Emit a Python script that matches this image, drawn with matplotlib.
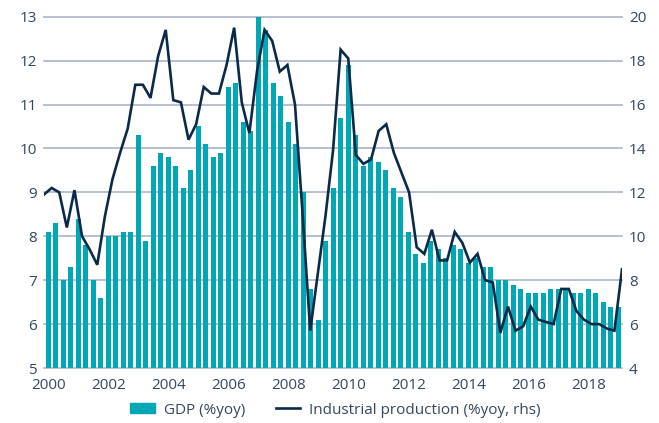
import numpy as np
import matplotlib.pyplot as plt
from matplotlib.patches import Patch
from matplotlib.lines import Line2D

# quarterly data, 2000Q1 .. 2019Q1
year_labels = [str(y) for y in range(2000, 2019, 2)]
gdp = [8.1, 8.3, 7.0, 7.3,   8.4, 7.8, 7.0, 6.6,   8.0, 8.0, 8.1, 8.1,
       10.3, 7.9, 9.6, 9.9,  9.8, 9.6, 9.1, 9.5,   10.5, 10.1, 9.8, 9.9,
       11.4, 11.5, 10.6, 10.4, 13.8, 12.7, 11.5, 11.2, 10.6, 10.1, 9.0, 6.8,
       6.1, 7.9, 9.1, 10.7,  11.9, 10.3, 9.6, 9.8,  9.7, 9.5, 9.1, 8.9,
       8.1, 7.6, 7.4, 7.9,   7.7, 7.5, 7.8, 7.7,   7.4, 7.5, 7.3, 7.3,
       7.0, 7.0, 6.9, 6.8,   6.7, 6.7, 6.7, 6.8,   6.8, 6.8, 6.7, 6.7,
       6.8, 6.7, 6.5, 6.4,   6.4]
ip = [11.9, 12.2, 12.0, 10.4, 12.1, 10.0, 9.4, 8.7,  10.9, 12.6, 13.8, 14.9,
      16.9, 16.9, 16.3, 18.2, 19.4, 16.2, 16.1, 14.4, 15.1, 16.8, 16.5, 16.5,
      17.8, 19.5, 16.1, 14.7, 17.5, 19.4, 18.9, 17.5, 17.8, 16.0, 11.0, 5.7,
      8.3, 10.9, 13.9, 18.5, 18.1, 13.7, 13.3, 13.5, 14.8, 15.1, 13.8, 12.9,
      12.0, 9.5, 9.2, 10.3,  8.9, 8.9, 10.2, 9.7,   8.8, 9.2, 8.0, 7.9,
      5.6, 6.8, 5.7, 5.9,    6.8, 6.2, 6.1, 6.0,   7.6, 7.6, 6.6, 6.2,
      6.0, 6.0, 5.8, 5.7,    8.5]

teal = '#00a8b5'
navy = '#0b2a4a'
grid_c = '#aab4ca'
txt = '#34475e'

plt.rcParams['font.family'] = ['Open Sans', 'DejaVu Sans']
fig = plt.figure(figsize=(6.59, 4.23), dpi=100)
ax = fig.add_axes([0.0668, 0.130, 0.8771, 0.8305])

x = np.arange(len(gdp))
xlim = (-0.57, 76.5)
ax.bar(x, gdp, width=0.63, color=teal, zorder=2)
ax.set_xlim(xlim)
ax.set_ylim(5, 13)
ax.set_yticks(range(5, 14))
ax.set_xticks(x[::8])
ax.set_xticklabels(year_labels)
ax.yaxis.grid(True, color=grid_c, lw=1.2)
ax.set_axisbelow(True)
for l in ax.get_ygridlines():
    l.set_clip_on(False)

# line on the right axis runs over the full plot width
ax2 = ax.twinx()
xl = np.linspace(xlim[0], xlim[1], len(ip))
ax2.plot(xl, ip, color=navy, lw=1.9, solid_joinstyle='miter')
ax2.set_ylim(4, 20)
ax2.set_yticks(range(4, 21, 2))

for a in (ax, ax2):
    for s in a.spines.values():
        s.set_visible(False)
ax.tick_params(axis='both', length=0, labelsize=11, colors=txt)
ax.tick_params(axis='y', pad=5)
ax.tick_params(axis='x', pad=7)
ax2.tick_params(axis='y', length=0, labelsize=11, colors=txt, pad=5)

handles = [Patch(color=teal), Line2D([], [], color=navy, lw=1.9)]
fig.legend(handles, ['GDP (%yoy)', 'Industrial production (%yoy, rhs)'],
           loc='center', bbox_to_anchor=(0.509, 1 - 410 / 423), ncol=2,
           frameon=False, fontsize=11, labelcolor=txt,
           handlelength=1.6, handleheight=0.6, columnspacing=2.0, handletextpad=0.6)

fig.savefig('out.png', dpi=100)
